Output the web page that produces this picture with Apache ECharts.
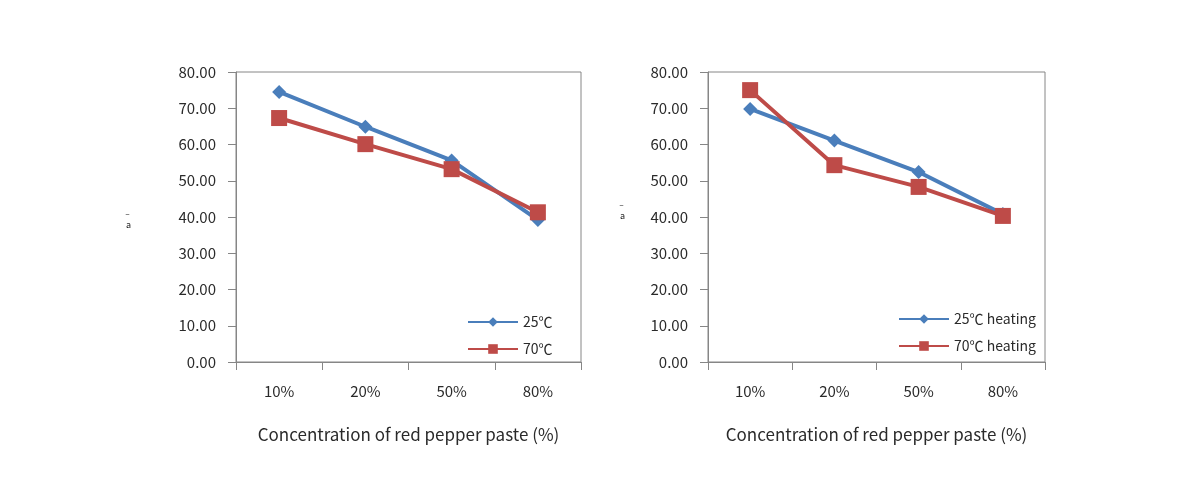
<!DOCTYPE html>
<html><head><meta charset="utf-8">
<script src="https://cdn.jsdelivr.net/npm/echarts@6/dist/echarts.min.js"></script>
<style>html,body{margin:0;padding:0;background:#fff}#c{width:1190px;height:485px}</style>
</head><body><div id="c"></div>
<script>
const categories = ['10%', '20%', '50%', '80%'];
const yTicks = [0, 10, 20, 30, 40, 50, 60, 70, 80];
const left25 = [74.5, 64.9, 55.6, 39.2];
const left70 = [67.3, 60.1, 53.2, 41.3];
const right25 = [69.8, 61.1, 52.4, 40.8];
const right70 = [75.0, 54.3, 48.3, 40.3];
const leftNames = ['25℃', '70℃'];
const rightNames = ['25℃ heating', '70℃ heating'];
const xTitle = 'Concentration of red pepper paste (%)';
const yTitle = 'a';

const BLUE = '#4a7ebb', RED = '#be4b48', GREY = '#868686';
const font = '"Noto Sans CJK KR","Open Sans",sans-serif';
const chart = echarts.init(document.getElementById('c'));

function xAxis(i) {
  return {
    type: 'category', gridIndex: i, data: categories, boundaryGap: true,
    axisLine: {lineStyle: {color: GREY, width: 1}},
    axisTick: {show: true, alignWithLabel: false, length: 8, lineStyle: {color: GREY}},
    axisLabel: {color: '#2a2a2a', fontSize: 15, fontFamily: font, margin: 22},
    name: xTitle, nameLocation: 'middle', nameGap: 64,
    nameTextStyle: {color: '#2a2a2a', fontSize: 17, fontFamily: font}
  };
}
function yAxis(i) {
  return {
    type: 'value', gridIndex: i, min: 0, max: 80, interval: 10,
    axisLine: {show: true, lineStyle: {color: GREY}},
    axisTick: {show: true, length: 8, lineStyle: {color: GREY}},
    splitLine: {show: false},
    axisLabel: {color: '#2a2a2a', fontSize: 15, fontFamily: font, margin: 20,
      formatter: v => v.toFixed(2)}
  };
}
function line(name, data, i, color, symbol, size) {
  return {
    name, type: 'line', xAxisIndex: i, yAxisIndex: i, data,
    symbol, symbolSize: size, showSymbol: true,
    lineStyle: {color, width: 4}, itemStyle: {color},
    animation: false
  };
}

chart.setOption({
  animation: false,
  grid: [
    {left: 236, top: 72, width: 345, height: 290, show: true, borderColor: GREY, borderWidth: 1},
    {left: 708, top: 72, width: 337, height: 290, show: true, borderColor: GREY, borderWidth: 1}
  ],
  xAxis: [xAxis(0), xAxis(1)],
  yAxis: [yAxis(0), yAxis(1)],
  legend: [
    {data: leftNames, orient: 'vertical', left: 462, top: 310, itemWidth: 50, itemHeight: 12, itemGap: 13,
      textStyle: {fontSize: 14, fontFamily: font, color: '#2a2a2a'}},
    {data: rightNames, orient: 'vertical', left: 893, top: 307, itemWidth: 50, itemHeight: 12, itemGap: 13,
      textStyle: {fontSize: 14, fontFamily: font, color: '#2a2a2a'}}
  ],
  graphic: [
    {type: 'text', left: 126, top: 214, style: {text: '‾\n' + yTitle, fontSize: 9, fontFamily: font, fill: '#222', lineHeight: 6}},
    {type: 'text', left: 620, top: 205, style: {text: '‾\n' + yTitle, fontSize: 9, fontFamily: font, fill: '#222', lineHeight: 6}}
  ],
  series: [
    line(leftNames[0], left25, 0, BLUE, 'diamond', 14),
    line(leftNames[1], left70, 0, RED, 'rect', 16),
    line(rightNames[0], right25, 1, BLUE, 'diamond', 14),
    line(rightNames[1], right70, 1, RED, 'rect', 16)
  ]
});
</script></body></html>
